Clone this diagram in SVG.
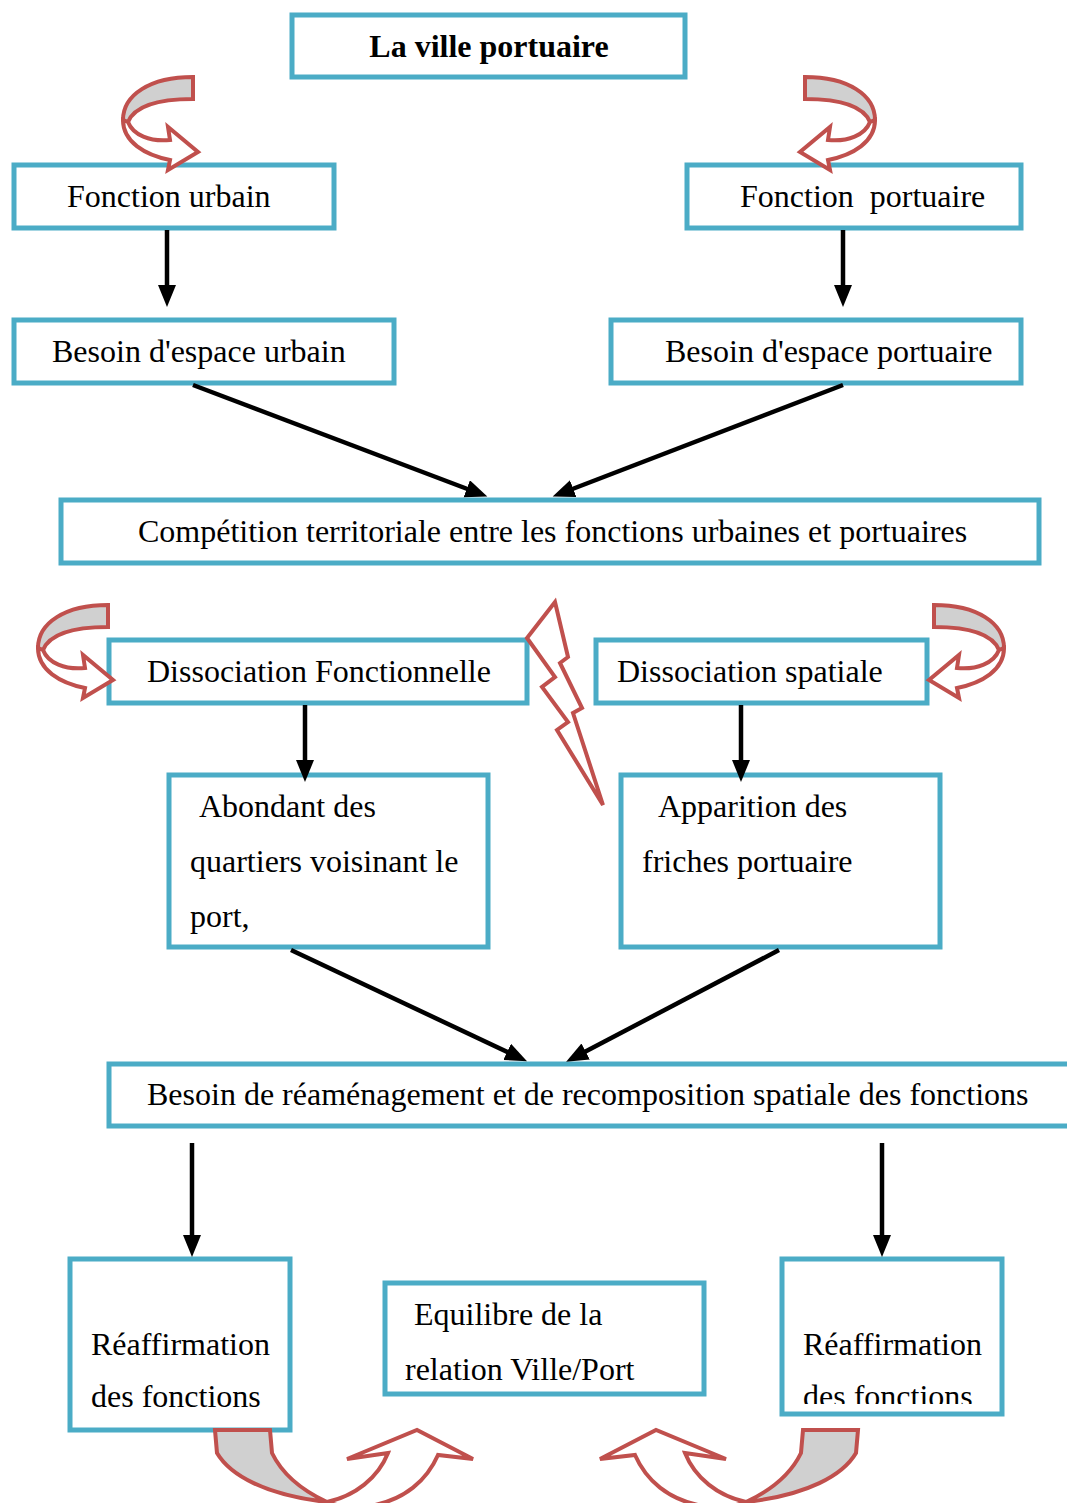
<svg xmlns="http://www.w3.org/2000/svg" width="1067" height="1503" viewBox="0 0 1067 1503">
<style>
.box{fill:#fff;stroke:#4BACC6;stroke-width:5}
.t{font-family:"Liberation Serif","Times New Roman",serif;font-size:32px;fill:#000}
.b{font-weight:bold}
.arr{stroke:#000;stroke-width:4.5;fill:none;marker-end:url(#ah)}
.red{stroke:#C0504D;stroke-width:4;stroke-linejoin:miter}
.g{fill:#D0D0D0}
.w{fill:#fff}
</style>
<defs>
<marker id="ah" markerUnits="userSpaceOnUse" markerWidth="24" markerHeight="20" refX="12" refY="9" orient="auto" viewBox="0 0 24 20">
<path d="M0,0 L22,9 L0,18 Z" fill="#000"/>
</marker>
<g id="curl">
<path class="red g" d="M71,1 C28,1 1,19 1,44 C3,49 5,48 6,46 C13,29 38,23 71,23 Z"/>
<path class="red w" d="M1,44 C1,66 23,79 48,84 L46,94 L76,76 L46,51 L48,64 C28,66 11,59 6,46 Z"/>
</g>
<g id="uarrow">
<path class="red g" d="M215,1430 L217,1453 C230,1475 265,1495 327,1502 C312,1495 285,1480 272,1453 L270,1430 Z"/>
<path class="red w" d="M327,1502 C355,1496 378,1478 388,1453 L347,1459 L417,1430 L473,1459 L438,1455 C427,1480 405,1500 370,1506 L340,1506 Z"/>
</g>
<clipPath id="clipR"><rect x="782" y="1259" width="220" height="145"/></clipPath>
</defs>

<g id="n-title"><rect class="box" x="292" y="15" width="393" height="62"/><text class="t b" x="489" y="57" text-anchor="middle">La ville portuaire</text></g>
<g id="n-furbain"><rect class="box" x="14" y="165" width="320" height="63"/><text class="t" x="67" y="207">Fonction urbain</text></g>
<g id="n-fport"><rect class="box" x="687" y="165" width="334" height="63"/><text class="t" x="740" y="207" xml:space="preserve">Fonction  portuaire</text></g>
<g id="n-burbain"><rect class="box" x="14" y="320" width="380" height="63"/><text class="t" x="52" y="362">Besoin d'espace urbain</text></g>
<g id="n-bport"><rect class="box" x="611" y="320" width="410" height="63"/><text class="t" x="665" y="362">Besoin d'espace portuaire</text></g>
<g id="n-comp"><rect class="box" x="61" y="500" width="978" height="63"/><text class="t" x="138" y="542">Compétition territoriale entre les fonctions urbaines et portuaires</text></g>
<g id="n-dissf"><rect class="box" x="109" y="640" width="418" height="63"/><text class="t" x="147" y="682">Dissociation Fonctionnelle</text></g>
<g id="n-disss"><rect class="box" x="596" y="640" width="331" height="63"/><text class="t" x="617" y="682">Dissociation spatiale</text></g>
<g id="n-abond"><rect class="box" x="169" y="775" width="319" height="172"/><text class="t" x="199" y="817">Abondant des</text><text class="t" x="190" y="872">quartiers voisinant le</text><text class="t" x="190" y="927">port,</text></g>
<g id="n-appar"><rect class="box" x="621" y="775" width="319" height="172"/><text class="t" x="658" y="817">Apparition des</text><text class="t" x="642" y="872">friches portuaire</text></g>
<g id="n-reamen"><rect class="box" x="109" y="1064" width="965" height="62"/><text class="t" x="147" y="1105">Besoin de réaménagement et de recomposition spatiale des fonctions</text></g>
<g id="n-reafL"><rect class="box" x="70" y="1259" width="220" height="171"/><text class="t" x="91" y="1355">Réaffirmation</text><text class="t" x="91" y="1407">des fonctions</text></g>
<g id="n-equil"><rect class="box" x="385" y="1283" width="319" height="111"/><text class="t" x="414" y="1325">Equilibre de la</text><text class="t" x="405" y="1380">relation Ville/Port</text></g>
<g id="n-reafR"><rect class="box" x="782" y="1259" width="220" height="155"/><g clip-path="url(#clipR)"><text class="t" x="803" y="1355">Réaffirmation</text><text class="t" x="803" y="1407">des fonctions</text></g></g>

<g id="connectors">
<line class="arr" x1="167" y1="230" x2="167" y2="297"/>
<line class="arr" x1="843" y1="230" x2="843" y2="297"/>
<line class="arr" x1="193" y1="385" x2="478" y2="493"/>
<line class="arr" x1="843" y1="385" x2="562" y2="493"/>
<line class="arr" x1="305" y1="705" x2="305" y2="772"/>
<line class="arr" x1="741" y1="705" x2="741" y2="772"/>
<line class="arr" x1="291" y1="950" x2="518" y2="1057"/>
<line class="arr" x1="779" y1="950" x2="575" y2="1057"/>
<line class="arr" x1="192" y1="1143" x2="192" y2="1247"/>
<line class="arr" x1="882" y1="1143" x2="882" y2="1247"/>
</g>

<g id="decor">
<use href="#curl" transform="translate(122,76)"/>
<use href="#curl" transform="translate(876,76) scale(-1,1)"/>
<use href="#curl" transform="translate(37,604)"/>
<use href="#curl" transform="translate(1005,604) scale(-1,1)"/>
<polygon class="red w" points="555,602 568,657 560,663 582,708 573,713 603,805 557,730 568,722 542,687 555,677 527,638"/>
<use href="#uarrow"/>
<use href="#uarrow" transform="translate(1073,0) scale(-1,1)"/>
</g>
</svg>
